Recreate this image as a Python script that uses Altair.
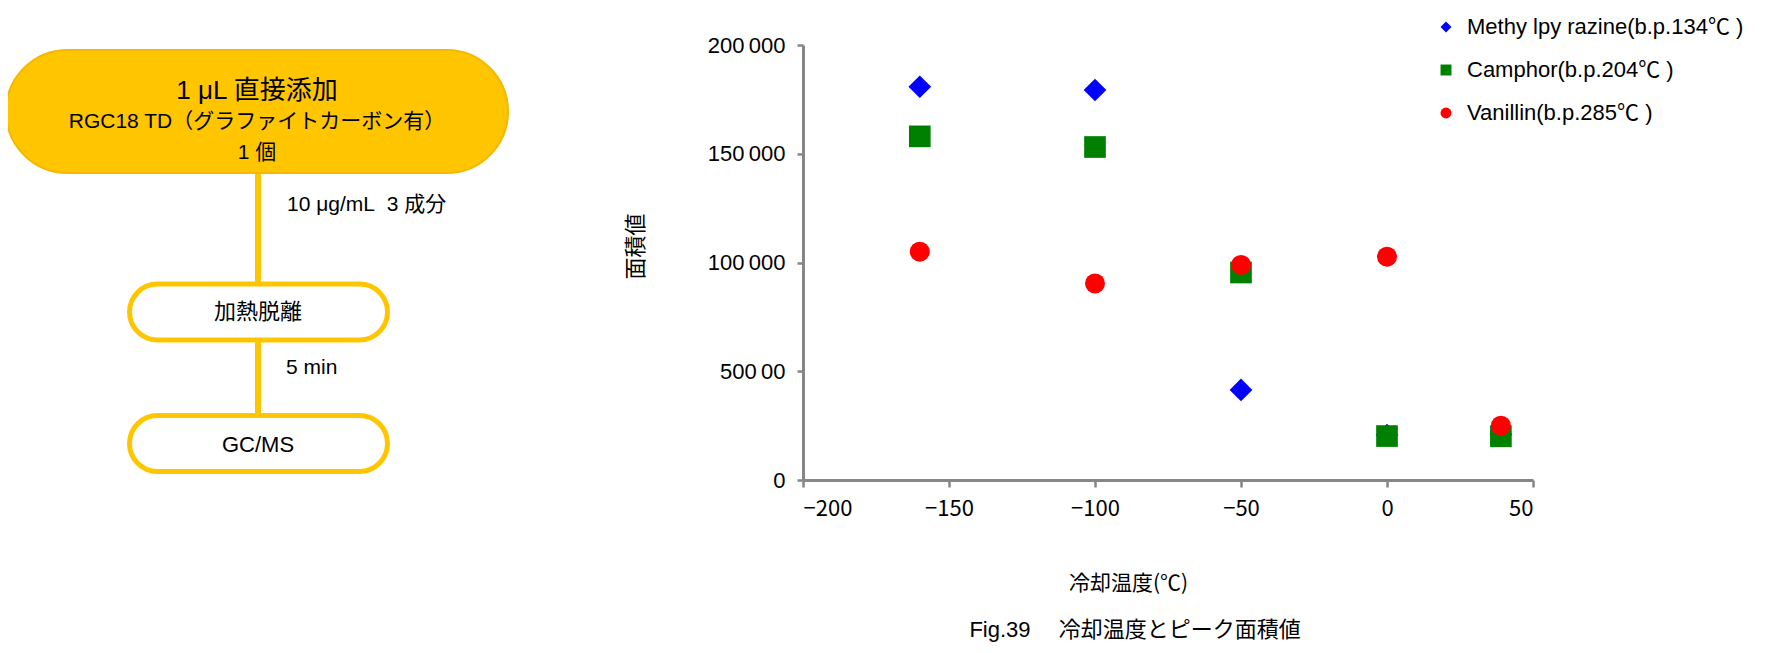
import altair as alt
import pandas as pd

# ---- data ----
temps = [-160, -100, -50, 0, 39]
series = ["Methy lpy razine(b.p.134℃ )", "Camphor(b.p.204℃ )", "Vanillin(b.p.285℃ )"]
methyl = [180800, 179300, 41400, 20700, 21000]
camphor = [158000, 153100, 95400, 20200, 20100]
vanillin = [105000, 90400, 98900, 102700, 25000]
colors = ["#0000FF", "#008000", "#FF0000"]
shapes = ["diamond", "square", "circle"]
marker_sizes = [515, 470, 400]
x_ticks = [-200, -150, -100, -50, 0, 50]
y_ticks = [0, 50000, 100000, 150000, 200000]
y_tick_labels = ["0", "500\u200900", "100\u2009000", "150\u2009000", "200\u2009000"]

rows = []
for name, vals in zip(series, [methyl, camphor, vanillin]):
    for t, v in zip(temps, vals):
        rows.append({"series": name, "temp": t, "area": v})
df = pd.DataFrame(rows)

LAT = "Liberation Sans, Noto Sans CJK JP"
JP = "Noto Sans CJK JP"
GOLD = "#FFC600"
GOLD_EDGE = "#F5B800"

# plot origin on the page
OX, OY = 803, 45
PW, PH = 730, 435

one = pd.DataFrame({"k": [0]})


def px(x):
    return x - OX


def py(y):
    return y - OY


def pill(x0, x1, y0, y1, fill, stroke, sw):
    r = (y1 - y0) / 2
    return alt.Chart(one).mark_rect(
        cornerRadius=r, fill=fill, stroke=stroke, strokeWidth=sw
    ).encode(
        x=alt.value(px(x0)), x2=alt.value(px(x1)),
        y=alt.value(py(y0)), y2=alt.value(py(y1)),
    )


def label(txt, x, y, size, align="center", font=LAT):
    return alt.Chart(one).mark_text(
        align=align, baseline="middle", font=font, fontSize=size, color="#000000"
    ).encode(x=alt.value(px(x)), y=alt.value(py(y)), text=alt.value(txt))


connector = alt.Chart(one).mark_rule(color=GOLD, strokeWidth=6).encode(
    x=alt.value(px(258)), y=alt.value(py(170)), y2=alt.value(py(416))
)

flow = [
    connector,
    pill(6, 508, 50, 173, GOLD, GOLD_EDGE, 2),
    pill(129.5, 387.5, 284, 340, "#FFFFFF", GOLD, 5),
    pill(129.5, 387.5, 415.5, 471.5, "#FFFFFF", GOLD, 5),
    label("1 μL 直接添加", 257, 91, 26),
    label("RGC18 TD（グラファイトカーボン有）", 257, 122, 21),
    label("1 個", 257, 153, 21),
    label("10 μg/mL\u00a0\u00a03 成分", 287, 205, 21, align="left"),
    label("加熱脱離", 258, 312, 22, font=JP),
    label("5 min", 286, 368, 21, align="left"),
    label("GC/MS", 258, 445, 22),
    label("Fig.39\u3000\u00a0冷却温度とピーク面積値", 1135, 630, 22),
]

legend = alt.Legend(
    title=None, orient="none", legendX=632, legendY=-29,
    labelFont=LAT, labelFontSize=22, labelColor="#000000",
    symbolSize=120, symbolStrokeWidth=0, rowPadding=21, padding=0,
    labelOffset=10, labelLimit=400,
)

x_enc = alt.X(
    "temp:Q",
    scale=alt.Scale(domain=[-200, 50], nice=False, zero=False),
    axis=alt.Axis(
        values=x_ticks, title="冷却温度(℃)", titleFont=JP, titleFontSize=21,
        titleFontWeight="normal", titleColor="#000000",
        titleX=1128 - OX, titleY=583 - 480, titleAlign="center", titleBaseline="middle",
        labelFont=JP, labelFontSize=22, labelColor="#000000", labelPadding=11,
        tickSize=7, tickWidth=2.5, tickColor="#868686",
        domainColor="#868686", domainWidth=3, grid=False,
    ),
)
y_enc = alt.Y(
    "area:Q",
    scale=alt.Scale(domain=[0, 200000], nice=False),
    axis=alt.Axis(
        values=y_ticks,
        labelExpr="%s[round(datum.value/50000)]" % str(y_tick_labels).replace("'", '"'),
        title="面積値", titleFont=JP, titleFontSize=22, titleFontWeight="normal",
        titleColor="#000000", titleAngle=270,
        titleX=635 - OX, titleY=246 - OY, titleAlign="center", titleBaseline="middle",
        labelFont="Liberation Sans", labelFontSize=22, labelColor="#000000",
        labelPadding=12, tickSize=6, tickWidth=2.5, tickColor="#868686",
        domainColor="#868686", domainWidth=3, grid=False,
    ),
)

point_layers = []
for name, sz in zip(series, marker_sizes):
    point_layers.append(
        alt.Chart(df).transform_filter(alt.datum.series == name)
        .mark_point(filled=True, opacity=1, size=sz)
        .encode(
            x=x_enc, y=y_enc,
            color=alt.Color("series:N", scale=alt.Scale(domain=series, range=colors), legend=legend),
            shape=alt.Shape("series:N", scale=alt.Scale(domain=series, range=shapes), legend=legend),
        )
    )

chart = alt.layer(*flow, *point_layers).properties(
    width=PW, height=PH,
    autosize="none",
    padding={"left": OX - 8, "top": OY - 8, "right": 1765 - 16 - (OX - 8) - PW,
             "bottom": 653 - 16 - (OY - 8) - PH},
).configure_view(stroke=None)

chart.save("out.html", embed_options={"renderer": "svg", "actions": False})
